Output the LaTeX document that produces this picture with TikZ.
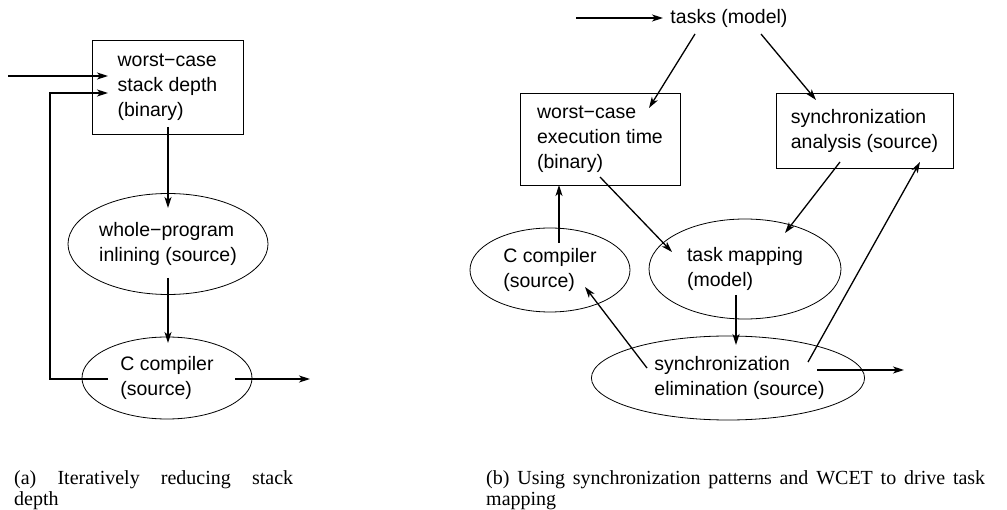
\documentclass[tikz,border=0pt]{standalone}
\usepackage{fontspec}
\setmainfont{Liberation Serif}
\newfontfamily\hv{Liberation Sans}
\usetikzlibrary{arrows.meta,shapes.geometric}
\tikzset{
  x=1pt,y=-1pt,
  arr/.style={line width=1.3pt,-{Stealth[length=11pt,width=7pt,inset=3pt]}},
  txt/.style={font=\hv\fontsize{19.5}{25}\selectfont,align=left,inner sep=0pt},
  boxn/.style={txt,draw,line width=0.8pt},
  elln/.style={txt,draw,ellipse,line width=0.8pt},
  captxt/.style={font=\fontsize{20}{24}\selectfont,inner sep=0pt,anchor=base west}
}
\begin{document}
\begin{tikzpicture}
\useasboundingbox (0,0) rectangle (1007,510);
% ---- (a)
\node[boxn,minimum width=151pt,minimum height=94pt] (wcsd) at (167.5,87) {worst−case\\stack depth\\(binary)};
\node[elln,minimum width=200pt,minimum height=101pt] (wp) at (168,244) {whole−program\\inlining (source)};
\node[elln,minimum width=170pt,minimum height=82pt] (ccL) at (167,378) {C compiler\\(source)};
\coordinate (inA) at (8,76);
\coordinate (outA) at (310,379);
\draw[arr] (inA) -- ([shift={(-59.5,-11)}]wcsd.center);
\draw[arr] ([shift={(-59,1)}]ccL.center) -- ++(-58,0) |- ([shift={(-59.5,6)}]wcsd.center);
\draw[arr] ([shift={(0.5,40)}]wcsd.center) -- ([shift={(0,-36)}]wp.center);
\draw[arr] ([shift={(0,34)}]wp.center) -- ([shift={(1,-35)}]ccL.center);
\draw[arr] ([shift={(68,1)}]ccL.center) -- (outA);
% ---- (b)
\node[txt] (tasks) at (729,18) {tasks (model)};
\node[boxn,minimum width=160pt,minimum height=92pt] (wcet) at (600,139) {worst−case\\execution time\\(binary)};
\node[boxn,minimum width=177pt,minimum height=75pt] (sa) at (864.5,130.5) {synchronization\\analysis (source)};
\node[elln,minimum width=160pt,minimum height=84pt] (ccR) at (550,270) {C compiler\\(source)};
\node[elln,minimum width=192pt,minimum height=100pt] (tm) at (745,269) {task mapping\\(model)};
\node[elln,minimum width=240pt,minimum height=84pt] (se) at (728,378) {\hspace*{23pt}synchronization\\\hspace*{23pt}elimination (source)};
\coordinate (inB) at (576,18);
\coordinate (outB) at (904,370);
\draw[arr] (inB) -- ([shift={(-66,0)}]tasks.center);
\draw[arr] ([shift={(-34,16)}]tasks.center) -- ([shift={(49,-31)}]wcet.center);
\draw[arr] ([shift={(32,16)}]tasks.center) -- ([shift={(-48.5,-30.5)}]sa.center);
\draw[arr] ([shift={(-24.5,31.5)}]sa.center) -- ([shift={(40,-36)}]tm.center);
\draw[arr] ([shift={(0,38)}]wcet.center) -- ([shift={(-73,-17)}]tm.center);
\draw[arr] ([shift={(9,-27)}]ccR.center) -- ([shift={(-41,46)}]wcet.center);
\draw[arr] ([shift={(-9,26)}]tm.center) -- ([shift={(8,-33)}]se.center);
\draw[arr] ([shift={(-81,-10)}]se.center) -- ([shift={(35,17)}]ccR.center);
\draw[arr] ([shift={(80,-16)}]se.center) -- ([shift={(55.5,31.5)}]sa.center);
\draw[arr] ([shift={(89,-8)}]se.center) -- (outB);
% ---- captions
\node[captxt] (capa1) at (14,485) {\makebox[279pt][s]{(a) Iteratively reducing stack}};
\node[captxt] (capa2) at (14,505) {depth};
\node[captxt] (capb1) at (486,485) {\makebox[499pt][s]{(b) Using synchronization patterns and WCET to drive task}};
\node[captxt] (capb2) at (486,505) {mapping};
\end{tikzpicture}
\end{document}
